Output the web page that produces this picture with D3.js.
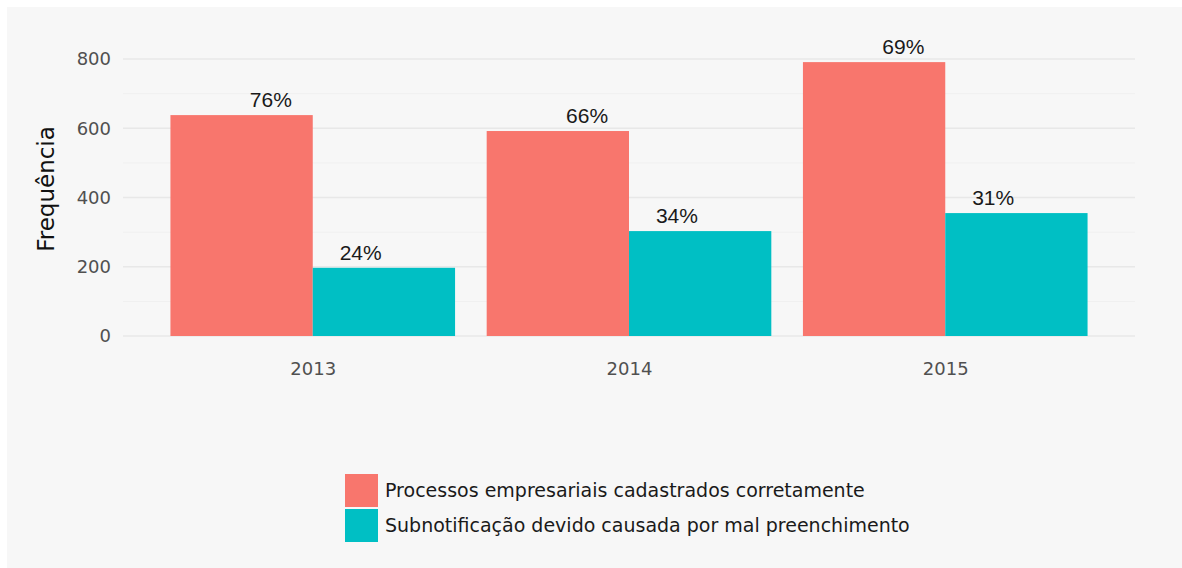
<!DOCTYPE html>
<html lang="pt">
<head>
<meta charset="UTF-8">
<title>Frequência</title>
<script src="https://d3js.org/d3.v7.min.js"></script>
<style>
  html, body { margin: 0; background: #fff; overflow: hidden; }
  svg { display: block; }
  text { font-family: "DejaVu Sans", sans-serif; }
</style>
</head>
<body>
<div id="chart"></div>
<script>
const years = ["2013", "2014", "2015"];
const seriesNames = [
  "Processos empresariais cadastrados corretamente",
  "Subnotificação devido causada por mal preenchimento"
];
const corretos = [638, 592, 791];
const subnotificados = [197, 303, 355];
const pctCorretos = ["76%", "66%", "69%"];
const pctSub = ["24%", "34%", "31%"];
const yTicks = [0, 200, 400, 600, 800];
const yMinor = [100, 300, 500, 700];
const colors = ["#F8766D", "#00BFC4"];

const w = 1182, h = 568;
const left = 123, right = 1135;

const svg = d3.select("#chart").append("svg")
  .attr("width", w).attr("height", h);

svg.append("rect")
  .attr("x", 7).attr("y", 7)
  .attr("width", w - 7).attr("height", h - 7)
  .attr("fill", "#f7f7f7");

const x = d3.scalePoint().domain(years).range([left, right]).padding(0.6);
const step = x.step();
const barW = step * 0.9 / 2;

const y = d3.scaleLinear().domain([0, 800]).range([336, 59]);

// grid
svg.append("g").selectAll("line").data(yMinor).enter().append("line")
  .attr("x1", left).attr("x2", right)
  .attr("y1", d => y(d)).attr("y2", d => y(d))
  .attr("stroke", "#f0f0f0").attr("stroke-width", 1);
svg.append("g").selectAll("line").data(yTicks).enter().append("line")
  .attr("x1", left).attr("x2", right)
  .attr("y1", d => y(d)).attr("y2", d => y(d))
  .attr("stroke", "#e8e8e8").attr("stroke-width", 1.5);

// y axis labels
const yAxis = d3.axisLeft(y).tickValues(yTicks).tickSize(0).tickPadding(12);
const gy = svg.append("g").attr("transform", "translate(" + left + ",0)").call(yAxis);
gy.select(".domain").remove();
gy.selectAll("text")
  .style("font-family", "DejaVu Sans").style("font-size", "18px").attr("fill", "#505050");

// x axis labels
const xAxis = d3.axisBottom(x).tickSize(0).tickPadding(14);
const gx = svg.append("g").attr("transform", "translate(0,348)").call(xAxis);
gx.select(".domain").remove();
gx.selectAll("text")
  .style("font-family", "DejaVu Sans").style("font-size", "18px").attr("fill", "#505050");

// bars
svg.append("g").selectAll("rect").data(years).enter().append("rect")
  .attr("x", d => x(d) - barW)
  .attr("y", (d, i) => y(corretos[i]))
  .attr("width", barW)
  .attr("height", (d, i) => y(0) - y(corretos[i]))
  .attr("fill", colors[0]);
svg.append("g").selectAll("rect").data(years).enter().append("rect")
  .attr("x", d => x(d))
  .attr("y", (d, i) => y(subnotificados[i]))
  .attr("width", barW)
  .attr("height", (d, i) => y(0) - y(subnotificados[i]))
  .attr("fill", colors[1]);

// percent labels
const lblOff = step * 0.142;
svg.append("g").selectAll("text").data(years).enter().append("text")
  .attr("x", d => x(d) - lblOff + 3)
  .attr("y", (d, i) => y(corretos[i]) - 8)
  .attr("text-anchor", "middle")
  .style("font-family", "Liberation Sans, Arial, sans-serif").style("font-size", "21px")
  .attr("fill", "#1a1a1a")
  .text((d, i) => pctCorretos[i]);
svg.append("g").selectAll("text").data(years).enter().append("text")
  .attr("x", d => x(d) + lblOff + 3)
  .attr("y", (d, i) => y(subnotificados[i]) - 8)
  .attr("text-anchor", "middle")
  .style("font-family", "Liberation Sans, Arial, sans-serif").style("font-size", "21px")
  .attr("fill", "#1a1a1a")
  .text((d, i) => pctSub[i]);

// y title
svg.append("text")
  .attr("transform", "translate(54,189) rotate(-90)")
  .attr("text-anchor", "middle")
  .style("font-size", "23px")
  .attr("fill", "#111")
  .text("Frequência");

// legend
const legend = svg.append("g").attr("transform", "translate(345,474)");
legend.selectAll("rect").data(seriesNames).enter().append("rect")
  .attr("x", 0).attr("y", (d, i) => i * 35)
  .attr("width", 33).attr("height", 33)
  .attr("fill", (d, i) => colors[i]);
legend.selectAll("text").data(seriesNames).enter().append("text")
  .attr("x", 40).attr("y", (d, i) => i * 35 + 16.5)
  .attr("dy", "0.35em")
  .style("font-size", "19px")
  .attr("fill", "#1a1a1a")
  .text(d => d);
</script>
</body>
</html>
